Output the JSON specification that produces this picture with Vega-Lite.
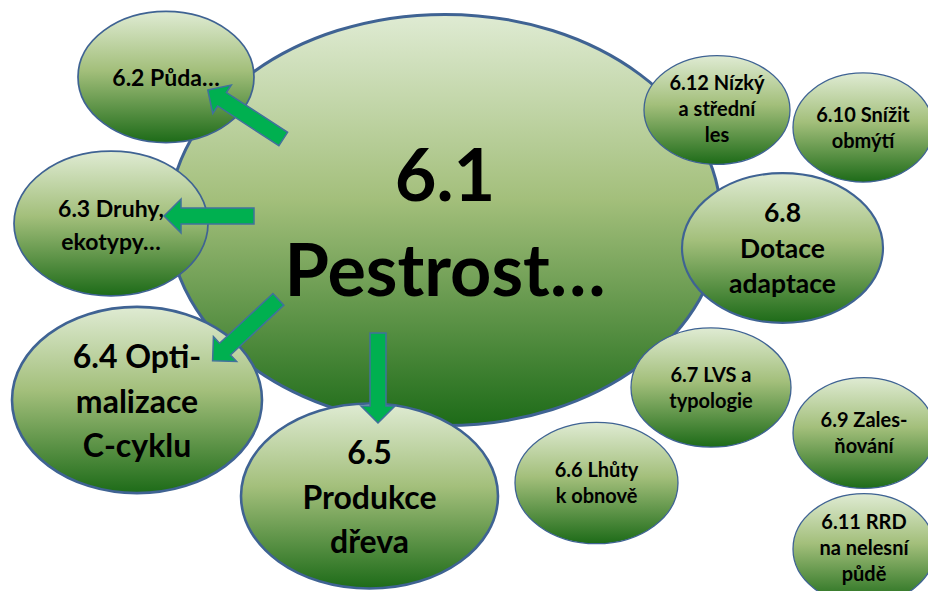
{
  "$schema": "https://vega.github.io/schema/vega-lite/v6.json",
  "width": 928,
  "height": 591,
  "padding": 0,
  "autosize": {"type": "none"},
  "background": "white",
  "config": {"view": {"stroke": null}},
  "datasets": {
    "nodes": [
      {"id": "6.1", "label": "6.1\nPestrost…", "lines": 2, "x": 445, "y": 220, "w": 552, "form": "a", "tier": "xl"},
      {"id": "6.2", "label": "6.2 Půda…", "lines": 1, "x": 166, "y": 77, "w": 176, "form": "a", "tier": "s"},
      {"id": "6.3", "label": "6.3 Druhy,\nekotypy…", "lines": 2, "x": 111, "y": 223.5, "w": 194, "form": "a", "tier": "s"},
      {"id": "6.4", "label": "6.4 Opti-\nmalizace\nC-cyklu", "lines": 3, "x": 137, "y": 400, "w": 250, "form": "a", "tier": "l"},
      {"id": "6.5", "label": "6.5\nProdukce\ndřeva", "lines": 3, "x": 369.5, "y": 496, "w": 257, "form": "c", "tier": "l"},
      {"id": "6.6", "label": "6.6 Lhůty\nk obnově", "lines": 2, "x": 596.5, "y": 483, "w": 163, "form": "a", "tier": "xs"},
      {"id": "6.7", "label": "6.7 LVS a\ntypologie", "lines": 2, "x": 711, "y": 387.5, "w": 160, "form": "a", "tier": "xs"},
      {"id": "6.8", "label": "6.8\nDotace\nadaptace", "lines": 3, "x": 782.5, "y": 248, "w": 201, "form": "a", "tier": "m"},
      {"id": "6.9", "label": "6.9 Zales-\nňování", "lines": 2, "x": 864, "y": 433, "w": 142, "form": "b", "tier": "xs"},
      {"id": "6.10", "label": "6.10 Snížit\nobmýtí", "lines": 2, "x": 863, "y": 127.5, "w": 140, "form": "b", "tier": "xs"},
      {"id": "6.11", "label": "6.11 RRD\nna nelesní\npůdě", "lines": 3, "x": 864, "y": 549, "w": 142, "form": "b", "tier": "xs"},
      {"id": "6.12", "label": "6.12 Nízký\na střední\nles", "lines": 3, "x": 717, "y": 110, "w": 146, "form": "a", "tier": "xs"}
    ],
    "arrows": [
      {"to": "6.2", "x": 245.5, "y": 114.5, "dir": 303},
      {"to": "6.3", "x": 209, "y": 216, "dir": 270},
      {"to": "6.4", "x": 245.5, "y": 330, "dir": 227},
      {"to": "6.5", "x": 378, "y": 378, "dir": 180}
    ]
  },
  "encoding": {
    "x": {"field": "x", "type": "quantitative", "axis": null, "scale": {"domain": [0, 928], "nice": false, "zero": false}},
    "y": {"field": "y", "type": "quantitative", "axis": null, "scale": {"domain": [0, 591], "nice": false, "zero": false, "reverse": true}}
  },
  "layer": [
    {
      "data": {"name": "nodes"},
      "mark": {
        "type": "point",
        "filled": true,
        "opacity": 1,
        "stroke": "#3f6393",
        "fill": {
          "gradient": "linear",
          "x1": 0, "y1": 0, "x2": 0, "y2": 1,
          "stops": [
            {"offset": 0, "color": "#dfebd3"},
            {"offset": 0.45, "color": "#a3bf7b"},
            {"offset": 1, "color": "#1d6b18"}
          ]
        }
      },
      "encoding": {
        "size": {"field": "w", "type": "quantitative", "legend": null, "scale": {"type": "pow", "exponent": 2, "domain": [0, 600], "range": [0, 360000]}},
        "shape": {"field": "form", "type": "nominal", "legend": null, "scale": {"domain": ["a", "b", "c"], "range": [
          "M -1 0 C -1 -0.4115 -0.5523 -0.745 0 -0.745 C 0.5523 -0.745 1 -0.4115 1 0 C 1 0.4115 0.5523 0.745 0 0.745 C -0.5523 0.745 -1 0.4115 -1 0 Z",
          "M -1 0 C -1 -0.4308 -0.5523 -0.78 0 -0.78 C 0.5523 -0.78 1 -0.4308 1 0 C 1 0.4308 0.5523 0.78 0 0.78 C -0.5523 0.78 -1 0.4308 -1 0 Z",
          "M -1 0 C -1 -0.3977 -0.5523 -0.72 0 -0.72 C 0.5523 -0.72 1 -0.3977 1 0 C 1 0.3977 0.5523 0.72 0 0.72 C -0.5523 0.72 -1 0.3977 -1 0 Z"
        ]}},
        "strokeWidth": {"field": "tier", "type": "ordinal", "legend": null, "scale": {"domain": ["xl", "l", "m", "s", "xs"], "range": [3, 1.3, 1.3, 1.3, 1.3]}}
      }
    },
    {
      "data": {"name": "nodes"},
      "transform": [{"filter": "datum.tier == 'xl'"}],
      "mark": {"type": "text", "align": "center", "baseline": "alphabetic", "lineBreak": "\n", "font": "Lato", "fontWeight": "bold", "fontSize": 72, "lineHeight": 95, "dy": -19, "fill": "#000000"},
      "encoding": {"text": {"field": "label"}}
    },
    {
      "data": {"name": "nodes"},
      "transform": [{"filter": "datum.tier == 'l'"}],
      "mark": {"type": "text", "align": "center", "baseline": "alphabetic", "lineBreak": "\n", "font": "Lato", "fontWeight": "bold", "fontSize": 32, "lineHeight": 44.5, "dy": -32, "fill": "#000000"},
      "encoding": {"text": {"field": "label"}}
    },
    {
      "data": {"name": "nodes"},
      "transform": [{"filter": "datum.tier == 'm'"}],
      "mark": {"type": "text", "align": "center", "baseline": "alphabetic", "lineBreak": "\n", "font": "Lato", "fontWeight": "bold", "fontSize": 26.5, "lineHeight": 35.5, "dy": -26, "fill": "#000000"},
      "encoding": {"text": {"field": "label"}}
    },
    {
      "data": {"name": "nodes"},
      "transform": [{"filter": "datum.tier == 's' && datum.lines == 1"}],
      "mark": {"type": "text", "align": "center", "baseline": "alphabetic", "lineBreak": "\n", "font": "Lato", "fontWeight": "bold", "fontSize": 23, "lineHeight": 33, "dy": 9, "fill": "#000000"},
      "encoding": {"text": {"field": "label"}}
    },
    {
      "data": {"name": "nodes"},
      "transform": [{"filter": "datum.tier == 's' && datum.lines == 2"}],
      "mark": {"type": "text", "align": "center", "baseline": "alphabetic", "lineBreak": "\n", "font": "Lato", "fontWeight": "bold", "fontSize": 23, "lineHeight": 33, "dy": -6.5, "fill": "#000000"},
      "encoding": {"text": {"field": "label"}}
    },
    {
      "data": {"name": "nodes"},
      "transform": [{"filter": "datum.tier == 'xs' && datum.lines == 2"}],
      "mark": {"type": "text", "align": "center", "baseline": "alphabetic", "lineBreak": "\n", "font": "Lato", "fontWeight": "bold", "fontSize": 20, "lineHeight": 26, "dy": -6, "fill": "#000000"},
      "encoding": {"text": {"field": "label"}}
    },
    {
      "data": {"name": "nodes"},
      "transform": [{"filter": "datum.tier == 'xs' && datum.lines == 3"}],
      "mark": {"type": "text", "align": "center", "baseline": "alphabetic", "lineBreak": "\n", "font": "Lato", "fontWeight": "bold", "fontSize": 20, "lineHeight": 26, "dy": -20, "fill": "#000000"},
      "encoding": {"text": {"field": "label"}}
    },
    {
      "data": {"name": "arrows"},
      "mark": {
        "type": "point",
        "filled": true,
        "opacity": 1,
        "size": 8100,
        "fill": "#00b050",
        "stroke": "#41719c",
        "strokeWidth": 1.5,
        "shape": "M 0 -1 L 0.378 -0.622 L 0.178 -0.622 L 0.178 1 L -0.178 1 L -0.178 -0.622 L -0.378 -0.622 Z"
      },
      "encoding": {
        "angle": {"field": "dir", "type": "quantitative", "scale": {"domain": [0, 360], "range": [0, 360]}}
      }
    }
  ]
}
